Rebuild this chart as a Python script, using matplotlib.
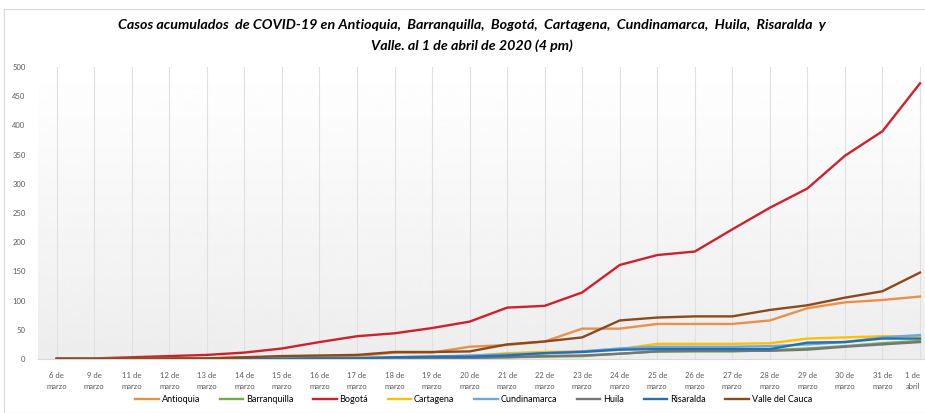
import numpy as np
import matplotlib
matplotlib.use("Agg")
import matplotlib.pyplot as plt
from matplotlib.patches import Rectangle

# fechas (eje x)
fechas = ["6 de\nmarzo", "9 de\nmarzo", "11 de\nmarzo", "12 de\nmarzo", "13 de\nmarzo",
          "14 de\nmarzo", "15 de\nmarzo", "16 de\nmarzo", "17 de\nmarzo", "18 de\nmarzo",
          "19 de\nmarzo", "20 de\nmarzo", "21 de\nmarzo", "22 de\nmarzo", "23 de\nmarzo",
          "24 de\nmarzo", "25 de\nmarzo", "26 de\nmarzo", "27 de\nmarzo", "28 de\nmarzo",
          "29 de\nmarzo", "30 de\nmarzo", "31 de\nmarzo", "1 de\nabril"]

antioquia = [0, 0, 1, 1, 1, 3, 3, 4, 5, 11, 11, 21, 24, 30, 52, 52, 60, 60, 60, 66, 87, 97, 101, 107]
barranquilla = [0, 0, 0, 0, 0, 0, 0, 1, 1, 1, 1, 2, 3, 4, 5, 9, 13, 13, 13, 15, 18, 22, 27, 31]
bogota = [1, 1, 3, 5, 7, 11, 18, 29, 39, 44, 53, 64, 88, 91, 114, 161, 178, 184, 222, 259, 292, 348, 390, 472]
cartagena = [0, 0, 0, 1, 1, 1, 1, 1, 2, 3, 3, 5, 10, 12, 13, 17, 26, 26, 26, 27, 35, 37, 39, 39]
cundinamarca = [0, 0, 0, 0, 1, 1, 1, 1, 2, 3, 4, 6, 8, 10, 13, 18, 21, 21, 21, 22, 25, 29, 37, 41]
huila = [0, 0, 0, 0, 0, 0, 0, 1, 1, 1, 1, 2, 3, 5, 6, 9, 13, 14, 14, 14, 16, 21, 25, 29]
risaralda = [0, 0, 0, 0, 0, 0, 0, 1, 1, 3, 4, 4, 6, 10, 12, 16, 17, 17, 17, 17, 28, 29, 35, 35]
valle = [0, 0, 1, 1, 1, 3, 5, 6, 7, 12, 12, 13, 25, 30, 37, 66, 71, 73, 73, 84, 92, 105, 116, 148]

series = [
    ("Antioquia", antioquia, "#E8914B"),
    ("Barranquilla", barranquilla, "#70AD47"),
    ("Bogotá", bogota, "#D0202E"),
    ("Cartagena", cartagena, "#FFC000"),
    ("Cundinamarca", cundinamarca, "#6FA8DC"),
    ("Huila", huila, "#767676"),
    ("Risaralda", risaralda, "#2470B0"),
    ("Valle del Cauca", valle, "#8B4A1C"),
]

plt.rcParams['font.family'] = ['Lato', 'DejaVu Sans']

dpi = 100
fig = plt.figure(figsize=(925 / dpi, 413 / dpi), dpi=dpi)
fig.patches.append(Rectangle((4 / 925, 0), 1, 1 - 9 / 413, transform=fig.transFigure,
                             fill=False, edgecolor="#D9D9D9", linewidth=0.8))

ax = fig.add_axes([38 / 925, 54 / 413, 1 - 38 / 925, 292 / 413])
x = np.arange(len(fechas))
xmax = (925 - 57) / 37.52

# fondo degradado
grad = np.linspace(1.0, 0.93, 256).reshape(-1, 1)
ax.imshow(grad, extent=[-0.5, 24, 0, 500], aspect="auto", cmap="gray", vmin=0, vmax=1,
          zorder=0, interpolation="bicubic")
ax.set_xlim(-0.5, xmax)
ax.set_ylim(0, 500)

for xi in x:
    ax.axvline(xi, color="#E0E0E0", linewidth=0.8, zorder=1)

for name, vals, col in series:
    ax.plot(x, vals, color=col, linewidth=1.7, label=name, zorder=3)

for s in ["top", "right", "left"]:
    ax.spines[s].set_visible(False)
ax.spines["bottom"].set_color("#D9D9D9")

ax.set_xticks(x)
ax.set_xticklabels(fechas, fontsize=5.5, color="#595959", linespacing=1.7)
ax.set_yticks(np.arange(0, 501, 50))
ax.tick_params(axis="y", labelsize=5.5, labelcolor="#595959", length=0, pad=9)
ax.tick_params(axis="x", length=0, pad=9)
# la última etiqueta queda en el borde derecho
ultima = ax.get_xticklabels()[-1]
ultima.set_horizontalalignment("right")
ultima.set_multialignment("center")
ultima.set_x(xmax - 0.03)

fig.text(0.51, 0.94, "Casos acumulados  de COVID-19 en Antioquia,  Barranquilla,  Bogotá,  Cartagena,  Cundinamarca,  Huila,  Risaralda  y",
         ha="center", va="center", fontsize=10.3, fontstyle="italic", fontweight="bold")
fig.text(0.51, 0.889, "Valle. al 1 de abril de 2020 (4 pm)",
         ha="center", va="center", fontsize=10.3, fontstyle="italic", fontweight="bold")

fig.legend(loc="center", bbox_to_anchor=(0.512, 0.032), ncol=8, frameon=False,
           fontsize=6.5, handlelength=2.6, columnspacing=2.2, handletextpad=0.3)

fig.savefig("out.png", dpi=dpi)
